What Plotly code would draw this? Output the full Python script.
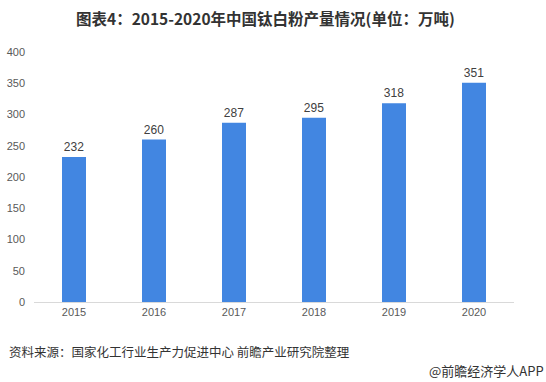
import plotly.graph_objects as go

years = ["2015", "2016", "2017", "2018", "2019", "2020"]
output = [232, 260, 287, 295, 318, 351]
y_ticks = [0, 50, 100, 150, 200, 250, 300, 350, 400]

title_text = "图表4：2015-2020年中国钛白粉产量情况(单位：万吨)"
source_text = "资料来源：国家化工行业生产力促进中心 前瞻产业研究院整理"
brand_text = "@前瞻经济学人APP"

FONT = "Microsoft YaHei, Noto Sans CJK SC, Liberation Sans, sans-serif"
NUMFONT = "Liberation Sans, Arial, sans-serif"

W, H = 546, 382
l, r, t, b = 34, 32, 52, 80
pw, ph = W - l - r, H - t - b


def px_x(x):
    return (x - l) / pw


def px_y(y):
    return (H - y - b) / ph


fig = go.Figure()
fig.add_trace(go.Bar(
    x=years, y=output,
    marker=dict(color="#4286E1", line=dict(width=0)),
    width=0.3,
    text=[str(v) for v in output],
    textposition="outside",
    textfont=dict(size=12, color="#404040", family=NUMFONT),
    cliponaxis=False,
))

fig.update_layout(
    width=W, height=H,
    margin=dict(l=l, r=r, t=t, b=b, autoexpand=False),
    paper_bgcolor="white", plot_bgcolor="white",
    showlegend=False,
    font=dict(family=FONT, color="#595959"),
    xaxis=dict(
        type="category", automargin=False,
        showline=True, linecolor="#D9D9D9", linewidth=1,
        showgrid=False, ticks="",
        tickfont=dict(size=11, color="#595959", family=NUMFONT),
    ),
    yaxis=dict(
        range=[0, 400], tickvals=y_ticks, automargin=False,
        showgrid=False, zeroline=False, showline=False, ticks="",
        tickfont=dict(size=11, color="#595959", family=NUMFONT),
        ticklabelstandoff=8,
    ),
    annotations=[
        dict(text="<b>" + title_text + "</b>", xref="paper", yref="paper",
             x=px_x(265), y=px_y(18), showarrow=False,
             font=dict(size=15.5, color="#333333", family=FONT),
             xanchor="center", yanchor="middle"),
        dict(text=source_text, xref="paper", yref="paper",
             x=px_x(7), y=px_y(351), showarrow=False,
             font=dict(size=12.5, color="#333333", family=FONT),
             xanchor="left", yanchor="middle"),
        dict(text=brand_text, xref="paper", yref="paper",
             x=px_x(546), y=px_y(370), showarrow=False,
             font=dict(size=13, color="#333333", family=FONT),
             xanchor="right", yanchor="middle"),
    ],
)

fig.write_html("out.html", config={"displayModeBar": False},
               post_script="document.body.style.margin='0';")
